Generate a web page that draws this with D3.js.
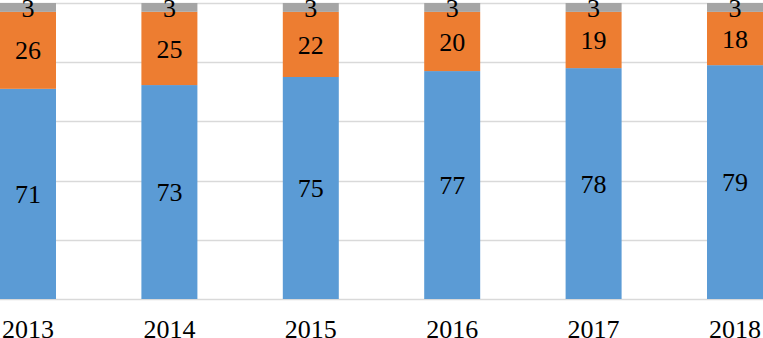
<!DOCTYPE html>
<html>
<head>
<meta charset="utf-8">
<script src="https://cdn.jsdelivr.net/npm/d3@7"></script>
<style>
  body { margin: 0; background: #fff; }
  svg { display: block; }
</style>
</head>
<body>
<script>
var years = ["2013", "2014", "2015", "2016", "2017", "2018"];
var blueVals = [71, 73, 75, 77, 78, 79];
var orangeVals = [26, 25, 22, 20, 19, 18];
var grayVals = [3, 3, 3, 3, 3, 3];
var yTicks = [0, 0.2, 0.4, 0.6, 0.8, 1];

var w = 763, h = 338;
var colors = ["#5B9BD5", "#ED7D31", "#A5A5A5"];
var keys = ["blue", "orange", "gray"];
var font = "'Liberation Serif', 'Times New Roman', serif";

var rows = years.map(function(y, i) {
  return { year: y, blue: blueVals[i], orange: orangeVals[i], gray: grayVals[i] };
});

var svg = d3.select("body").append("svg")
  .attr("width", w).attr("height", h);

// plot area partly cut off left and right, like the picture
var x = d3.scaleBand().domain(years).range([-42.7, 805.7]).paddingInner(0.604).paddingOuter(0.302);
var y = d3.scaleLinear().domain([0, 1]).range([299, 3]);

// gridlines
svg.append("g").selectAll("line")
  .data(yTicks)
  .enter().append("line")
  .attr("x1", 0).attr("x2", w)
  .attr("y1", function(d) { return Math.round(y(d)) + 0.5; })
  .attr("y2", function(d) { return Math.round(y(d)) + 0.5; })
  .attr("stroke", "#d9d9d9")
  .attr("stroke-width", 1.3);

// 100% stacked
var series = d3.stack().keys(keys).offset(d3.stackOffsetExpand)(rows);

var groups = svg.selectAll("g.series")
  .data(series)
  .enter().append("g")
  .attr("class", "series")
  .attr("fill", function(d, i) { return colors[i]; });

groups.selectAll("rect")
  .data(function(d) { return d; })
  .enter().append("rect")
  .attr("x", function(d) { return x(d.data.year); })
  .attr("width", x.bandwidth())
  .attr("y", function(d) { return y(d[1]); })
  .attr("height", function(d) { return y(d[0]) - y(d[1]); });

// value labels
groups.selectAll("text")
  .data(function(d) { return d.map(function(p) { p.key = d.key; return p; }); })
  .enter().append("text")
  .attr("x", function(d) { return x(d.data.year) + x.bandwidth() / 2; })
  .attr("y", function(d) { return (y(d[0]) + y(d[1])) / 2; })
  .attr("dy", "0.35em")
  .attr("text-anchor", "middle")
  .attr("fill", "#000")
  .style("font-family", font)
  .style("font-size", "26px")
  .text(function(d) { return d.data[d.key]; });

// category axis labels
var xAxis = d3.axisBottom(x).tickSize(0).tickPadding(0);
var gx = svg.append("g").attr("transform", "translate(0,320)").call(xAxis);
gx.select(".domain").remove();
gx.selectAll("text")
  .attr("fill", "#000")
  .style("font-family", font)
  .style("font-size", "26px");
</script>
</body>
</html>
